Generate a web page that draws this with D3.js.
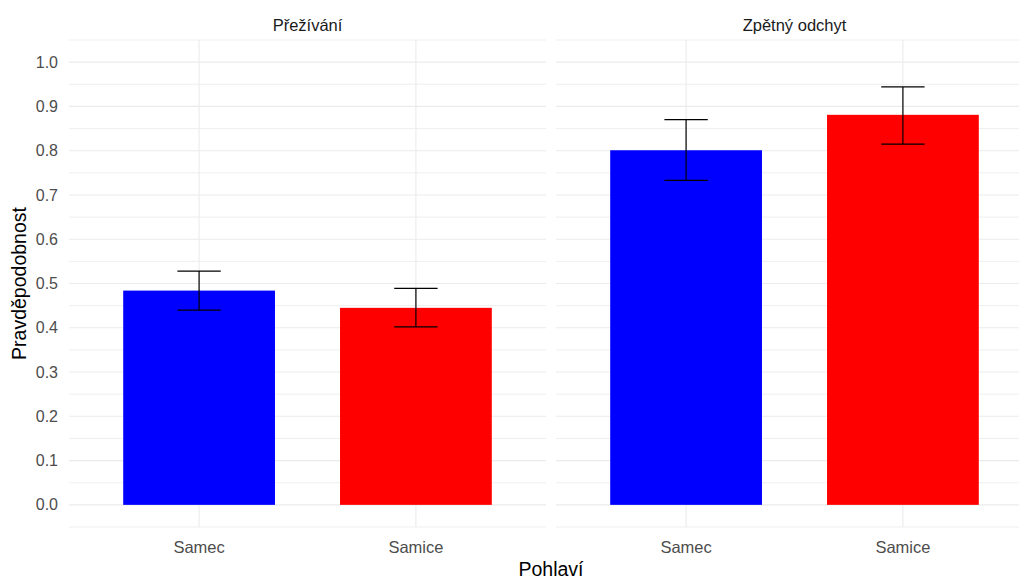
<!DOCTYPE html>
<meta charset="utf-8">
<script src="https://d3js.org/d3.v7.min.js"></script>
<style>
  body { margin: 0; background: #fff; }
  text { font-family: "Liberation Sans", Arial, sans-serif; }
</style>
<div id="my_dataviz"></div>
<script>

// data
var facets = ["Přežívání", "Zpětný odchyt"];
var sexes = ["Samec", "Samice"];
var colors = ["#0000ff", "#ff0000"];
var means = [[0.484, 0.445], [0.801, 0.881]];
var lower = [[0.440, 0.402], [0.733, 0.815]];
var upper = [[0.528, 0.489], [0.870, 0.944]];
var yTicks = [0.0, 0.1, 0.2, 0.3, 0.4, 0.5, 0.6, 0.7, 0.8, 0.9, 1.0];

var W = 1019, H = 581;
var panelW = 477, gap = 10;
var panelLeft = 69, plotTop = 40, plotBottom = 527;

var svg = d3.select("#my_dataviz")
  .append("svg")
    .attr("width", W)
    .attr("height", H);

// y scale, shared
var y = d3.scaleLinear()
  .domain([-0.05, 1.05])
  .range([plotBottom, plotTop]);

// y axis labels
svg.append("g")
  .selectAll("text")
  .data(yTicks)
  .enter()
  .append("text")
    .attr("x", 58)
    .attr("y", function(d) { return y(d); })
    .attr("dy", "0.35em")
    .attr("text-anchor", "end")
    .style("font-size", "16px")
    .style("fill", "#4d4d4d")
    .text(function(d) { return d.toFixed(1); });

facets.forEach(function(f, i) {
  var x0 = panelLeft + i * (panelW + gap);
  var g = svg.append("g").attr("transform", "translate(" + x0 + ",0)");

  var x = d3.scaleLinear()
    .domain([0.4, 2.6])
    .range([0, panelW]);

  // minor grid
  var minor = d3.range(-0.05, 1.06, 0.1);
  g.selectAll(".minor")
    .data(minor)
    .enter()
    .append("line")
      .attr("x1", 0).attr("x2", panelW)
      .attr("y1", function(d) { return y(d); })
      .attr("y2", function(d) { return y(d); })
      .attr("stroke", "#ebebeb")
      .attr("stroke-width", 0.8);

  // major grid
  g.selectAll(".major")
    .data(yTicks)
    .enter()
    .append("line")
      .attr("x1", 0).attr("x2", panelW)
      .attr("y1", function(d) { return y(d); })
      .attr("y2", function(d) { return y(d); })
      .attr("stroke", "#ebebeb")
      .attr("stroke-width", 1.1);

  g.selectAll(".vgrid")
    .data(sexes)
    .enter()
    .append("line")
      .attr("x1", function(d, j) { return x(j + 1); })
      .attr("x2", function(d, j) { return x(j + 1); })
      .attr("y1", plotTop).attr("y2", plotBottom)
      .attr("stroke", "#ebebeb")
      .attr("stroke-width", 1.1);

  // bars
  g.selectAll("rect")
    .data(sexes)
    .enter()
    .append("rect")
      .attr("x", function(d, j) { return x(j + 1 - 0.35); })
      .attr("width", x(0.7 + 0.4) - x(0.4))
      .attr("y", function(d, j) { return y(means[i][j]); })
      .attr("height", function(d, j) { return y(0) - y(means[i][j]); })
      .attr("fill", function(d, j) { return colors[j]; });

  // error bars
  sexes.forEach(function(s, j) {
    var cx = x(j + 1), hw = x(0.5) - x(0.4);
    var eb = g.append("g").attr("stroke", "#000").attr("stroke-width", 1.2).attr("fill", "none");
    eb.append("line").attr("x1", cx).attr("x2", cx)
      .attr("y1", y(lower[i][j])).attr("y2", y(upper[i][j]));
    eb.append("line").attr("x1", cx - hw).attr("x2", cx + hw)
      .attr("y1", y(lower[i][j])).attr("y2", y(lower[i][j]));
    eb.append("line").attr("x1", cx - hw).attr("x2", cx + hw)
      .attr("y1", y(upper[i][j])).attr("y2", y(upper[i][j]));
  });

  // x tick labels
  g.selectAll(".xlab")
    .data(sexes)
    .enter()
    .append("text")
      .attr("x", function(d, j) { return x(j + 1); })
      .attr("y", 553)
      .attr("text-anchor", "middle")
      .style("font-size", "16.5px")
      .style("fill", "#4d4d4d")
      .text(function(d) { return d; });

  // strip title
  g.append("text")
    .attr("x", panelW / 2)
    .attr("y", 31)
    .attr("text-anchor", "middle")
    .style("font-size", "16.5px")
    .style("fill", "#1a1a1a")
    .text(f);
});

// axis titles
svg.append("text")
  .attr("transform", "translate(26," + ((plotTop + plotBottom) / 2) + ")rotate(-90)")
  .attr("text-anchor", "middle")
  .style("font-size", "19.5px")
  .style("fill", "#000")
  .text("Pravděpodobnost");

svg.append("text")
  .attr("x", panelLeft + (2 * panelW + gap) / 2)
  .attr("y", 576)
  .attr("text-anchor", "middle")
  .style("font-size", "19.5px")
  .style("fill", "#000")
  .text("Pohlaví");

</script>
